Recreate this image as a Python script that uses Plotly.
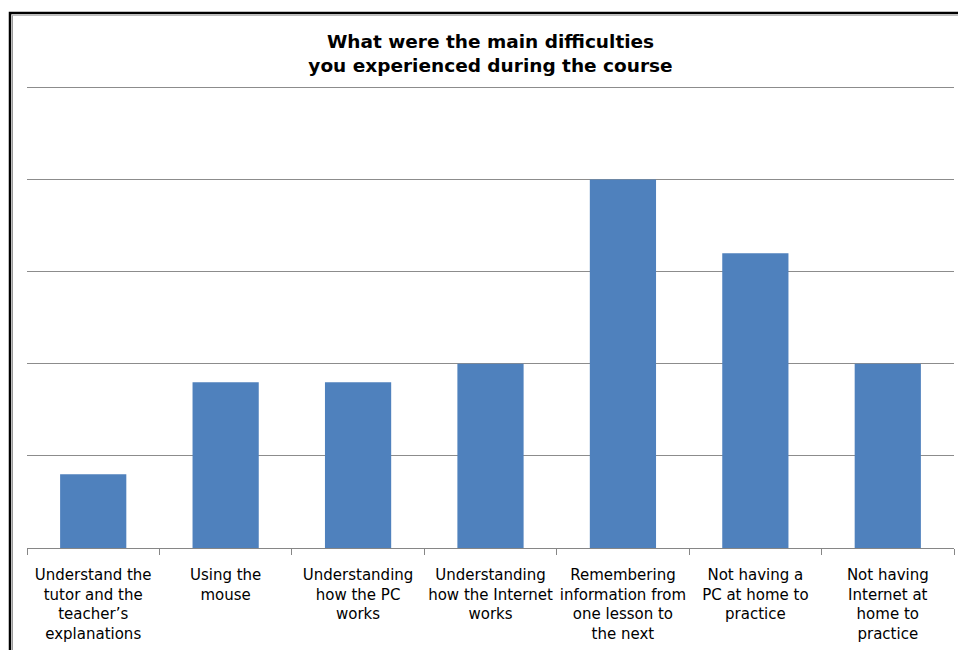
import plotly.graph_objects as go

# Survey answers: main difficulties reported during the course
categories = [
    "Understand the tutor and the teacher’s explanations",
    "Using the mouse",
    "Understanding how the PC works",
    "Understanding how the Internet works",
    "Remembering information from one lesson to the next",
    "Not having a PC at home to practice",
    "Not having Internet at home to practice",
]
responses = [4, 9, 9, 10, 20, 16, 10]
tick_labels = [
    "Understand the<br>tutor and the<br>teacher’s<br>explanations",
    "Using the<br>mouse",
    "Understanding<br>how the PC<br>works",
    "Understanding<br>how the Internet<br>works",
    "Remembering<br>information from<br>one lesson to<br>the next",
    "Not having a<br>PC at home to<br>practice",
    "Not having<br>Internet at<br>home to<br>practice",
]

W, H = 958, 650
ML, MR, MT, MB = 27, 4, 84, 102
pw, ph = W - ML - MR, H - MT - MB
# 25 units span 460.5 px; leave a few px above the top gridline
y_top = 25 * ph / 460.5

FONT = "DejaVu Sans, Verdana, sans-serif"


def px_x(x):
    return (x - ML) / pw


def px_y(y):
    return (H - MB - y) / ph


fig = go.Figure(
    go.Bar(
        x=categories,
        y=responses,
        marker=dict(color="#4F81BD", line=dict(width=0)),
        hoverinfo="x+y",
    )
)

fig.update_layout(
    width=W,
    height=H,
    margin=dict(l=ML, r=MR, t=MT, b=MB, pad=0),
    paper_bgcolor="white",
    plot_bgcolor="white",
    bargap=0.5,
    showlegend=False,
    font=dict(family=FONT, color="black"),
    title=dict(
        text="What were the main difficulties<br>you experienced during the course",
        font=dict(size=18.5, family=FONT, color="black", weight="bold"),
        x=0.5,
        xref="paper",
        xanchor="center",
        y=1 - 48 / H,
        yref="container",
        yanchor="middle",
    ),
    xaxis=dict(
        type="category",
        tickmode="array",
        tickvals=categories,
        ticktext=tick_labels,
        tickson="boundaries",
        ticks="outside",
        ticklen=6,
        tickcolor="#868686",
        tickwidth=1,
        showline=True,
        linecolor="#868686",
        linewidth=1,
        showgrid=False,
        tickfont=dict(size=15, color="black"),
        tickangle=0,
        ticklabelstandoff=13,
    ),
    yaxis=dict(
        range=[0, y_top],
        tick0=0,
        dtick=5,
        showticklabels=False,
        showgrid=True,
        gridcolor="#8C8C8C",
        gridwidth=1,
        zeroline=False,
        showline=False,
        ticks="",
    ),
)

# Outer chart frame (runs off the right and bottom edges)
fig.add_shape(
    type="rect", xref="paper", yref="paper",
    x0=px_x(10), x1=px_x(1200), y0=px_y(900), y1=px_y(13),
    line=dict(color="black", width=2.5), fillcolor="rgba(0,0,0,0)", layer="above",
)
fig.add_shape(
    type="line", xref="paper", yref="paper",
    x0=px_x(12.5), x1=px_x(12.5), y0=px_y(900), y1=px_y(15),
    line=dict(color="#9A9A9A", width=1), layer="above",
)
fig.add_shape(
    type="line", xref="paper", yref="paper",
    x0=px_x(12.5), x1=px_x(1200), y0=px_y(15.5), y1=px_y(15.5),
    line=dict(color="#BDBDBD", width=1), layer="above",
)

fig.write_html("out.html")
